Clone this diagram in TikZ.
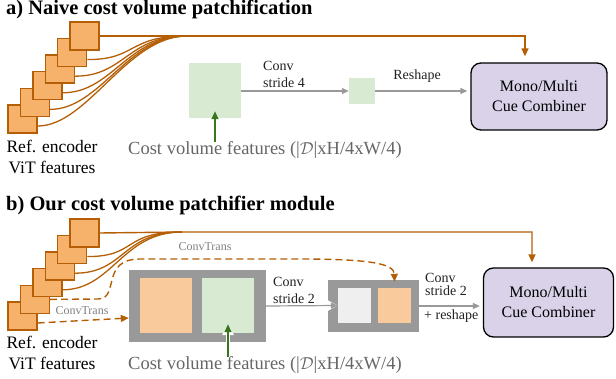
\documentclass[tikz,border=0pt]{standalone}
\usepackage{fontspec}
\setmainfont{Liberation Serif}
\usetikzlibrary{arrows.meta}
\definecolor{sqfill}{HTML}{F6B26B}
\definecolor{sqline}{HTML}{B45F06}
\definecolor{lgreen}{HTML}{D9EAD3}
\definecolor{dgreen}{HTML}{38761D}
\definecolor{boxgrey}{HTML}{999999}
\definecolor{lorange}{HTML}{F9CB9C}
\definecolor{lgrey}{HTML}{EFEFEF}
\definecolor{lpurple}{HTML}{D9D2E9}
\definecolor{txtgrey}{HTML}{666666}
\definecolor{ctgrey}{HTML}{808080}
\begin{document}
\begin{tikzpicture}[x=1pt,y=-1pt,
  sq/.style={draw=sqline, fill=sqfill, line width=1.4pt, minimum width=29pt, minimum height=28pt, inner sep=0pt},
  rbox/.style={inner sep=0pt, draw=none},
  oline/.style={draw=sqline, line width=1.3pt},
  oarr/.style={draw=sqline, line width=1.4pt, -{Triangle[length=8pt,width=7pt]}},
  dline/.style={draw=sqline, line width=1.4pt, dash pattern=on 7pt off 4pt, -{Triangle[length=8pt,width=7pt]}},
  garr/.style={draw=boxgrey, line width=1.2pt, -{Triangle[length=7pt,width=6pt]}},
  wout/.style={draw=white, line width=3.5pt, -{Triangle[length=11pt,width=11pt]}},
  grarr/.style={draw=dgreen, fill=dgreen, line width=1.5pt, -{Triangle[length=8pt,width=7pt]}},
  combiner/.style={draw=black, line width=1.3pt, fill=lpurple, rounded corners=10pt, align=center,
    font=\fontsize{16}{20}\selectfont},
  ttl/.style={anchor=base west, inner sep=0pt, font=\fontsize{20.5}{24}\selectfont\bfseries},
  lbl/.style={anchor=west, inner sep=0pt, align=left, text=black!87, font=\fontsize{14}{17}\selectfont},
  ctl/.style={inner sep=0pt, text=ctgrey, font=\fontsize{12}{14}\selectfont},
  cvt/.style={anchor=base west, inner sep=0pt, text=txtgrey, font=\fontsize{18.5}{22}\selectfont},
  enc/.style={anchor=north, inner sep=0pt, align=center, font=\fontsize{17.5}{21}\selectfont}
]
\useasboundingbox (0,0) rectangle (616,379);

% ---------------- a) ----------------
\node[ttl] (ta) at (6,15) {a) Naive cost volume patchification};

\node[sq] (a6) at (22.5,119) {};
\node[sq] (a5) at (34.9,102.4) {};
\node[sq] (a4) at (47.3,85.8) {};
\node[sq] (a3) at (59.7,69.2) {};
\node[sq] (a2) at (72.1,52.6) {};
\node[sq] (a1) at (84.5,36) {};
\coordinate (ca) at (187,36);
\coordinate (ka) at (525,36);

\foreach \s in {a2,a3,a4,a5,a6}
  \draw[oline] ([yshift=-7pt]\s.east) .. controls +(50,0) and +(-60,0) .. (ca);

\node[rbox, fill=lgreen, minimum width=52pt, minimum height=55pt] (gA) at (215,90.5) {};
\node[rbox, fill=lgreen, minimum width=26pt, minimum height=26pt] (sA) at (362,91) {};
\node[combiner, minimum width=136pt, minimum height=67pt] (mA) at (539,96.5) {Mono/Multi\\Cue Combiner};

\draw[oarr, shorten >=6pt] (a1.east) -- (ca) -- (ka) -- (ka |- mA.north);

\draw[garr] (gA.east |- sA.west) -- (sA.west);
\draw[garr, shorten >=3pt] (sA.east) -- (sA.east -| mA.west);
\node[lbl] (la1) at (263,74) {Conv\\stride 4};
\node[anchor=base, inner sep=0pt, text=black!87, font=\fontsize{14}{17}\selectfont] (la2) at (417,80) {Reshape};

\node[cvt] (cvA) at (128,155) {Cost volume features (|$\mathcal{D}$|xH/4xW/4)};
\node[enc] (eA) at (52,139.5) {Ref. encoder\\ViT features};

\draw[wout] (cvA.north -| gA.center) -- ([yshift=7pt]gA.south);
\draw[grarr] (cvA.north -| gA.center) -- ([yshift=7pt]gA.south);

% ---------------- b) ----------------
\node[ttl] (tb) at (6,211) {b) Our cost volume patchifier module};

\node[sq] (b6) at (22.5,316) {};
\node[sq] (b5) at (34.9,299.4) {};
\node[sq] (b4) at (47.3,282.8) {};
\node[sq] (b3) at (59.7,266.2) {};
\node[sq] (b2) at (72.1,249.6) {};
\node[sq] (b1) at (84.5,233) {};
\coordinate (cb) at (182,232);
\coordinate (kb) at (532,232);

\foreach \s in {b2,b3,b4}
  \draw[oline] ([yshift=-7pt]\s.east) .. controls +(50,0) and +(-60,0) .. (cb);

\node[rbox, fill=boxgrey, minimum width=137pt, minimum height=72pt] (bigB) at (197.5,306) {};
\node[rbox, fill=lorange, minimum width=52pt, minimum height=55pt] (oB) at (166,305.5) {};
\node[rbox, fill=lgreen, minimum width=52pt, minimum height=55pt] (gB) at (228,305.5) {};
\node[rbox, fill=boxgrey, minimum width=91pt, minimum height=52pt] (box2) at (373.5,306) {};
\node[rbox, fill=lgrey, minimum width=33pt, minimum height=35pt] (lg2) at (354.5,305.5) {};
\node[rbox, fill=lorange, minimum width=33pt, minimum height=35pt] (o2) at (394.5,305.5) {};
\node[combiner, minimum width=130pt, minimum height=69pt] (mB) at (548.5,302.5) {Mono/Multi\\Cue Combiner};

\draw[oarr, shorten >=5pt] (b1.east) -- (cb) -- (kb) -- (kb |- mB.north);

\draw[dline] (b5.east) -- (98,299) .. controls (120,299) and (100,259) .. (140,259)
  -- (300,259) .. controls (372,259) and (394,264) .. ([yshift=6pt]o2.north);
\draw[dline] ([yshift=-7pt]b6.east) -- ([yshift=-12pt]bigB.west);
\node[ctl] (ct1) at (205,247) {ConvTrans};
\node[ctl] (ct2) at (82,311) {ConvTrans};

\draw[wout] (bigB.east) -- (lg2.west);
\draw[garr] (bigB.east) -- (lg2.west);
\draw[garr, shorten >=3pt] (box2.east) -- (box2.east -| mB.west);
\node[lbl] (lb1) at (273,290) {Conv\\stride 2};
\node[lbl, font=\fontsize{14}{13.5}\selectfont] (lb2) at (425,284.5) {Conv\\stride 2};
\node[anchor=base west, inner sep=0pt, text=black!87, font=\fontsize{14}{17}\selectfont] (lb3) at (424,320) {+ reshape};

\node[cvt] (cvB) at (128,370) {Cost volume features (|$\mathcal{D}$|xH/4xW/4)};
\node[enc] (eB) at (52,335.5) {Ref. encoder\\ViT features};

\draw[wout] (cvB.north -| gB.center) -- ([yshift=9pt]gB.south);
\draw[grarr] (cvB.north -| gB.center) -- ([yshift=9pt]gB.south);
\end{tikzpicture}
\end{document}
